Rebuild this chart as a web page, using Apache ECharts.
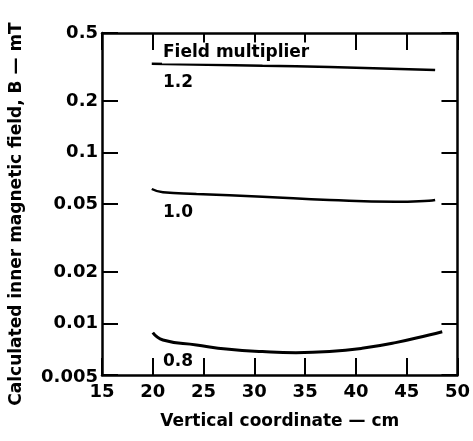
<!DOCTYPE html>
<html>
<head>
<meta charset="utf-8">
<script src="https://cdn.jsdelivr.net/npm/echarts@6/dist/echarts.min.js"></script>
<style>
  html, body { margin: 0; padding: 0; background: #fff; }
  #chart { width: 473px; height: 441px; }
</style>
</head>
<body>
<div id="chart"></div>
<script>
// Vertical coordinate (cm) for each curve
const xMult12 = [19.9, 30.8, 37.4, 47.8];
const xMult10 = [19.9, 21.0, 24.3, 30.8, 37.4, 43.9, 47.2, 47.8];
const xMult08 = [20.0, 21.0, 24.3, 27.5, 30.8, 34.1, 37.4, 40.6, 43.9, 47.2, 48.5];

// Calculated inner magnetic field (mT)
const bMult12 = [0.330, 0.322, 0.316, 0.304];
const bMult10 = [0.0612, 0.0585, 0.0572, 0.0552, 0.0528, 0.0516, 0.0523, 0.0528];
const bMult08 = [0.00884, 0.00801, 0.00749, 0.00707, 0.00685, 0.00675, 0.00685, 0.00716, 0.00773, 0.00857, 0.00895];

// Axis ticks
const yTicks = [0.005, 0.01, 0.02, 0.05, 0.1, 0.2, 0.5];
const xTicks = [15, 20, 25, 30, 35, 40, 45, 50];

const pairs = (xs, ys) => xs.map((x, i) => [x, ys[i]]);

const FONT = '"DejaVu Sans", Verdana, sans-serif';
const lbl = { fontFamily: FONT, fontWeight: 'bold', fontSize: 18, color: '#000' };

const chart = echarts.init(document.getElementById('chart'), null, { renderer: 'canvas' });

const xBase = {
  type: 'value', min: 15, max: 50, interval: 5,
  splitLine: { show: false },
  axisLine: { show: true, onZero: false, lineStyle: { color: '#000', width: 2.5 } },
  axisTick: { show: true, inside: true, length: 17, lineStyle: { color: '#000', width: 2 } }
};
const yBase = {
  type: 'log', logBase: 10, min: 0.005, max: 0.5,
  splitLine: { show: false },
  axisLine: { show: true, onZero: false, lineStyle: { color: '#000', width: 2.5 } },
  axisTick: { show: true, inside: true, length: 16, customValues: yTicks, lineStyle: { color: '#000', width: 2 } }
};

const lineSeries = (name, data, width) => ({
  name, type: 'line', data, smooth: true, showSymbol: false,
  lineStyle: { color: '#000', width }, silent: true, z: 3
});

chart.setOption({
  animation: false,
  backgroundColor: '#fff',
  grid: { left: 102, right: 15, top: 33, bottom: 66 },
  xAxis: [
    Object.assign({}, xBase, {
      position: 'bottom',
      axisLabel: Object.assign({ margin: 8, customValues: xTicks, formatter: v => String(v) }, lbl),
      name: 'Vertical coordinate \u2014 cm', nameLocation: 'middle', nameGap: 38,
      nameTextStyle: Object.assign({}, lbl, { fontSize: 17 })
    }),
    Object.assign({}, xBase, { position: 'top', axisLabel: { show: false } })
  ],
  yAxis: [
    Object.assign({}, yBase, {
      position: 'left',
      axisLabel: Object.assign({
        margin: 4, customValues: yTicks,
        formatter: v => {
          const s = String(+v.toPrecision(3));
          return v < 0.006 ? '{low|' + s + '}' : s;
        },
        rich: { low: { fontFamily: FONT, fontWeight: 'bold', fontSize: 18, color: '#000', padding: [4, 0, 0, 0] } }
      }, lbl)
    }),
    Object.assign({}, yBase, { position: 'right', axisLabel: { show: false } })
  ],
  series: [
    lineSeries('1.2', pairs(xMult12, bMult12), 2.5),
    lineSeries('1.0', pairs(xMult10, bMult10), 2.5),
    lineSeries('0.8', pairs(xMult08, bMult08), 3)
  ],
  graphic: [
    {
      type: 'text', x: 17, y: 214, rotation: Math.PI / 2, z: 10,
      style: { text: 'Calculated inner magnetic field, B \u2014 mT', align: 'center', verticalAlign: 'middle', font: 'bold 17px ' + FONT, fill: '#000' }
    },
    {
      type: 'text', x: 162, y: 53, z: 10,
      style: { text: 'Field multiplier', verticalAlign: 'middle', font: 'bold 17px ' + FONT, fill: '#000', backgroundColor: '#fff', padding: [2, 2, 2, 1] }
    },
    { type: 'text', x: 163, y: 83, z: 10, style: { text: '1.2', verticalAlign: 'middle', font: 'bold 17px ' + FONT, fill: '#000' } },
    { type: 'text', x: 163, y: 213, z: 10, style: { text: '1.0', verticalAlign: 'middle', font: 'bold 17px ' + FONT, fill: '#000' } },
    { type: 'text', x: 163, y: 362, z: 10, style: { text: '0.8', verticalAlign: 'middle', font: 'bold 17px ' + FONT, fill: '#000' } }
  ]
});
</script>
</body>
</html>
